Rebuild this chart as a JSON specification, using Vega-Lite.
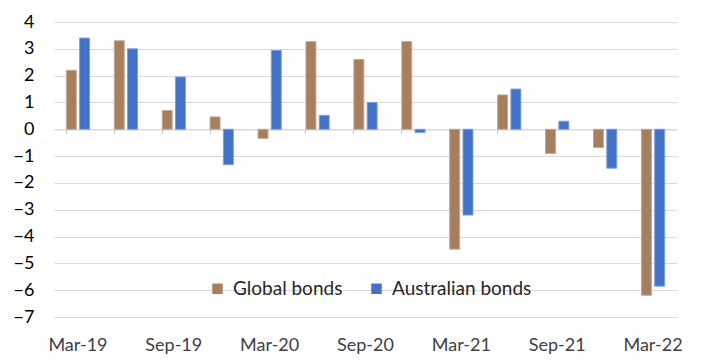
{
  "$schema": "https://vega.github.io/schema/vega-lite/v6.json",
  "autosize": "none",
  "width": 623,
  "height": 295,
  "padding": {"left": 54, "top": 22, "right": 40, "bottom": 47},
  "background": "white",
  "config": {"view": {"stroke": null}, "font": "Lato"},
  "data": {"values": [
    {"quarter": "Mar-19", "series": "Global bonds", "value": 2.2},
    {"quarter": "Mar-19", "series": "Australian bonds", "value": 3.4},
    {"quarter": "Jun-19", "series": "Global bonds", "value": 3.3},
    {"quarter": "Jun-19", "series": "Australian bonds", "value": 3.0},
    {"quarter": "Sep-19", "series": "Global bonds", "value": 0.7},
    {"quarter": "Sep-19", "series": "Australian bonds", "value": 1.95},
    {"quarter": "Dec-19", "series": "Global bonds", "value": 0.46},
    {"quarter": "Dec-19", "series": "Australian bonds", "value": -1.32},
    {"quarter": "Mar-20", "series": "Global bonds", "value": -0.34},
    {"quarter": "Mar-20", "series": "Australian bonds", "value": 2.94},
    {"quarter": "Jun-20", "series": "Global bonds", "value": 3.27},
    {"quarter": "Jun-20", "series": "Australian bonds", "value": 0.52},
    {"quarter": "Sep-20", "series": "Global bonds", "value": 2.6},
    {"quarter": "Sep-20", "series": "Australian bonds", "value": 1.0},
    {"quarter": "Dec-20", "series": "Global bonds", "value": 3.27},
    {"quarter": "Dec-20", "series": "Australian bonds", "value": -0.12},
    {"quarter": "Mar-21", "series": "Global bonds", "value": -4.47},
    {"quarter": "Mar-21", "series": "Australian bonds", "value": -3.2},
    {"quarter": "Jun-21", "series": "Global bonds", "value": 1.28},
    {"quarter": "Jun-21", "series": "Australian bonds", "value": 1.5},
    {"quarter": "Sep-21", "series": "Global bonds", "value": -0.9},
    {"quarter": "Sep-21", "series": "Australian bonds", "value": 0.3},
    {"quarter": "Dec-21", "series": "Global bonds", "value": -0.68},
    {"quarter": "Dec-21", "series": "Australian bonds", "value": -1.45},
    {"quarter": "Mar-22", "series": "Global bonds", "value": -6.19},
    {"quarter": "Mar-22", "series": "Australian bonds", "value": -5.85}
  ]},
  "layer": [
    {
      "mark": {"type": "bar", "strokeWidth": 1},
      "encoding": {
        "x": {
          "field": "quarter", "type": "nominal", "sort": null,
          "scale": {"paddingInner": 0.515, "paddingOuter": 0.2575},
          "axis": {
            "orient": "bottom", "title": null, "domain": false, "ticks": false,
            "labelAngle": 0, "labelFontSize": 18, "labelColor": "#404040",
            "labelPadding": 19, "labelOverlap": false,
            "values": ["Mar-19", "Sep-19", "Mar-20", "Sep-20", "Mar-21", "Sep-21", "Mar-22"]
          }
        },
        "xOffset": {
          "field": "series", "type": "nominal",
          "sort": ["Global bonds", "Australian bonds"],
          "scale": {"paddingInner": 0.25, "paddingOuter": 0}
        },
        "y": {
          "field": "value", "type": "quantitative",
          "scale": {"domain": [-7, 4], "nice": false},
          "axis": {
            "title": null, "domain": false, "ticks": false,
            "values": [-7, -6, -5, -4, -3, -2, -1, 0, 1, 2, 3, 4],
            "labelOverlap": false, "labelFlush": false,
            "labelFontSize": 18, "labelColor": "#000000", "labelPadding": 20,
            "gridColor": "#D9D9D9", "gridWidth": 1.2
          }
        },
        "color": {
          "field": "series", "type": "nominal",
          "scale": {"domain": ["Global bonds", "Australian bonds"], "range": ["#A67F5F", "#4472C4"]},
          "legend": {
            "orient": "none", "direction": "horizontal", "title": null,
            "legendX": 154, "legendY": 257,
            "symbolType": "square", "symbolSize": 110, "symbolStrokeWidth": 0,
            "labelFontSize": 19, "labelColor": "#262626", "columnPadding": 24, "labelOffset": 6
          }
        },
        "stroke": {
          "field": "series", "type": "nominal",
          "scale": {"domain": ["Global bonds", "Australian bonds"], "range": ["#C4A88F", "#7D9FE0"]},
          "legend": null
        }
      }
    },
    {
      "mark": {"type": "bar", "opacity": 0},
      "encoding": {
        "x": {
          "field": "quarter", "type": "nominal", "sort": null,
          "axis": {
            "orient": "top", "offset": -107.3, "title": null, "labels": false,
            "domain": true, "domainColor": "#D9D9D9", "domainWidth": 1.2,
            "ticks": true, "tickSize": -4, "tickColor": "#BFBFBF", "bandPosition": 0, "grid": false
          }
        },
        "y": {
          "field": "value", "type": "quantitative",
          "scale": {"domain": [-7, 4], "nice": false},
          "axis": {
            "title": null, "domain": false, "ticks": false,
            "values": [-7, -6, -5, -4, -3, -2, -1, 0, 1, 2, 3, 4],
            "labelOverlap": false, "labelFlush": false,
            "labelFontSize": 18, "labelColor": "#000000", "labelPadding": 20,
            "gridColor": "#D9D9D9", "gridWidth": 1.2
          }
        }
      }
    }
  ]
}
